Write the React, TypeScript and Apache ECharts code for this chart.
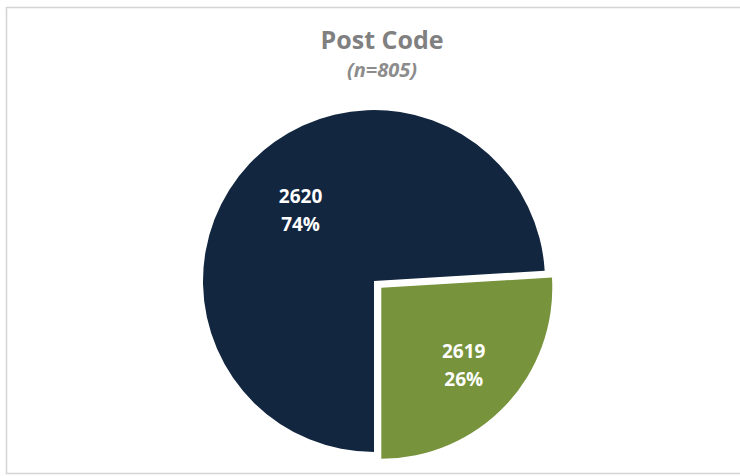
import React, { useEffect, useRef } from "react";
import * as echarts from "echarts";

const categories = ["2620", "2619"];
const counts = [596, 209];
const percentLabels = ["74%", "26%"];
const sliceColors = ["#12263f", "#77933c"];
const titleText = "Post Code";
const subtitleText = "(n=805)";

export default function App() {
  const ref = useRef<HTMLDivElement>(null);
  useEffect(() => {
    if (!ref.current) return;
    const chart = echarts.init(ref.current, null, { renderer: "svg" });
    const labelShift = [
      [-9, -10],
      [18, 16],
    ];
    chart.setOption({
      animation: false,
      backgroundColor: "#ffffff",
      title: {
        text: titleText,
        subtext: subtitleText,
        left: 377,
        textAlign: "center",
        top: 21,
        itemGap: 8,
        textStyle: {
          fontFamily: "Open Sans",
          fontWeight: "bold",
          fontSize: 25,
          color: "#808080",
        },
        subtextStyle: {
          fontFamily: "Open Sans",
          fontWeight: "bold",
          fontStyle: "italic",
          fontSize: 20,
          color: "#8c8c8c",
        },
      },
      graphic: [
        {
          type: "rect",
          shape: { x: 6.5, y: 7.5, width: 760, height: 466 },
          style: { fill: "none", stroke: "#d4d4d4", lineWidth: 1.5 },
          silent: true,
        },
      ],
      series: [
        {
          type: "pie",
          center: [374, 281],
          radius: 171,
          startAngle: 270,
          clockwise: true,
          selectedMode: "single",
          selectedOffset: 10,
          emphasis: { disabled: true },
          itemStyle: { borderWidth: 0 },
          label: {
            show: true,
            position: "inside",
            formatter: (p: any) => `${p.name}\n${percentLabels[p.dataIndex]}`,
            color: "#ffffff",
            fontFamily: "Open Sans",
            fontWeight: "bold",
            fontSize: 19,
            lineHeight: 28,
          },
          labelLayout: (p: any) => ({
            dx: labelShift[p.dataIndex][0],
            dy: labelShift[p.dataIndex][1],
          }),
          data: categories.map((c, i) => ({
            name: c,
            value: counts[i],
            selected: i === 1,
            itemStyle: { color: sliceColors[i] },
          })),
        },
      ],
    });
    return () => chart.dispose();
  }, []);
  return (
    <div
      ref={ref}
      style={{ position: "fixed", left: 0, top: 0, width: 740, height: 476 }}
    />
  );
}
